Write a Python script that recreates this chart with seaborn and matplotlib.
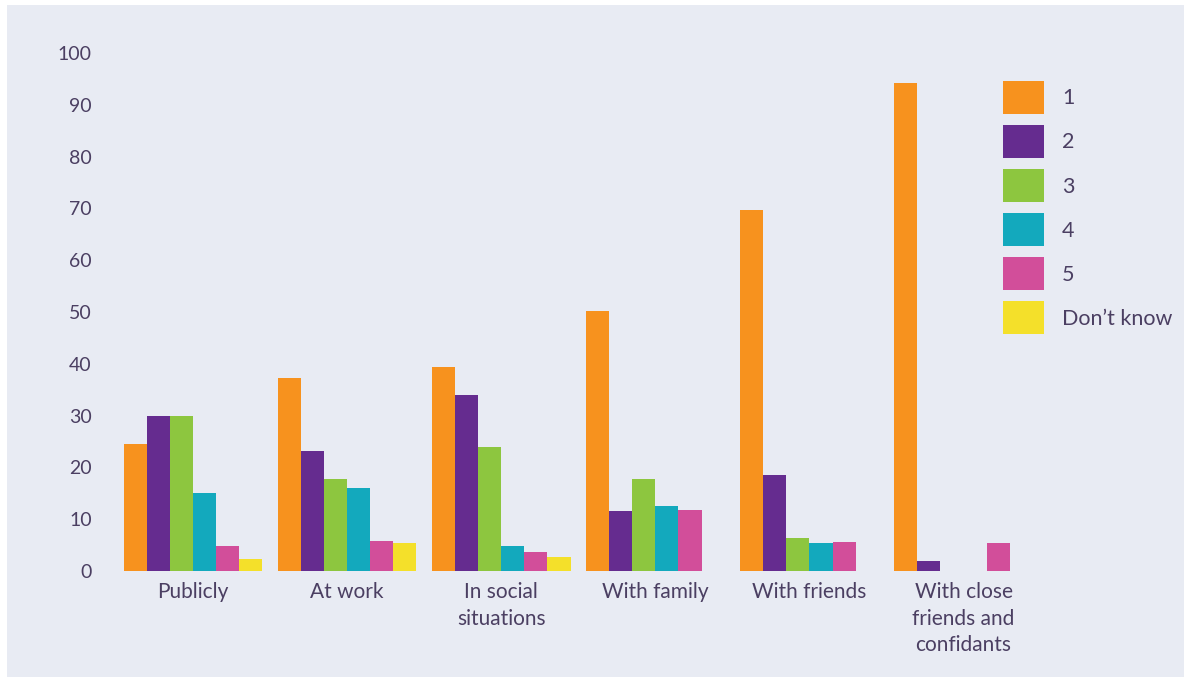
import numpy as np
import pandas as pd
import matplotlib
matplotlib.use("Agg")
import matplotlib.pyplot as plt
from matplotlib.patches import Rectangle
import seaborn as sns

# Settings in which people are comfortable, rated 1-5 (percent)
categories = ["Publicly", "At work", "In social\nsituations", "With family",
              "With friends", "With close\nfriends and\nconfidants"]
ratings = ["1", "2", "3", "4", "5", "Don\u2019t know"]

rating_1 = [24.5, 37.3, 39.4, 50.2, 69.7, 94.2]
rating_2 = [29.9, 23.2, 34.0, 11.6, 18.5, 2.0]
rating_3 = [29.9, 17.8, 24.0, 17.8, 6.4, np.nan]
rating_4 = [15.0, 16.0, 4.8, 12.6, 5.4, np.nan]
rating_5 = [4.8, 5.8, 3.7, 11.8, 5.6, 5.4]
dont_know = [2.3, 5.4, 2.7, np.nan, np.nan, np.nan]

colors = ["#F7921E", "#652C8F", "#8DC63F", "#13A9BD", "#D24E9A", "#F4E02A"]
text_color = "#4B3F62"
panel_color = "#E8EBF3"

series = [rating_1, rating_2, rating_3, rating_4, rating_5, dont_know]
df = pd.DataFrame(
    [(c, r, v) for r, vals in zip(ratings, series) for c, v in zip(categories, vals)],
    columns=["setting", "rating", "percent"],
)

sns.set_theme(style="white")
plt.rcParams["font.family"] = ["Lato", "DejaVu Sans"]

fig = plt.figure(figsize=(11.91, 6.82), dpi=100)
fig.patch.set_facecolor("white")
fig.patches.append(Rectangle((7 / 1191, 5 / 682), 1177 / 1191, 672 / 682,
                             transform=fig.transFigure, facecolor=panel_color,
                             edgecolor="none", zorder=-10))

ax = fig.add_axes([116 / 1191, 111 / 682, 940 / 1191, 518 / 682])
ax.set_facecolor("none")

sns.barplot(data=df, x="setting", y="percent", hue="rating",
            order=categories, hue_order=ratings, palette=colors,
            width=0.9, saturation=1, linewidth=0, ax=ax, legend=True)

ax.set_xlim(-0.5, 5.6)
ax.set_ylim(0, 100)
ax.set_yticks(range(0, 101, 10))
ax.set_xlabel("")
ax.set_ylabel("")
for s in ax.spines.values():
    s.set_visible(False)
ax.tick_params(axis="y", length=0, pad=17.5, labelsize=14, labelcolor=text_color)
ax.tick_params(axis="x", length=0, pad=8, labelsize=15, labelcolor=text_color)
for lbl in ax.get_xticklabels():
    lbl.set_linespacing(1.4)
    lbl.set_verticalalignment("top")

handles, labels = ax.get_legend_handles_labels()
ax.get_legend().remove()
fig.legend(handles, labels, loc="upper left",
           bbox_to_anchor=(1003 / 1191, 1 - 81 / 682),
           frameon=False, borderpad=0, borderaxespad=0,
           handlelength=1.9, handleheight=2.0, handletextpad=0.85,
           labelspacing=0.5, fontsize=15.5, labelcolor=text_color)

fig.savefig("out.png", dpi=100, facecolor="white")
